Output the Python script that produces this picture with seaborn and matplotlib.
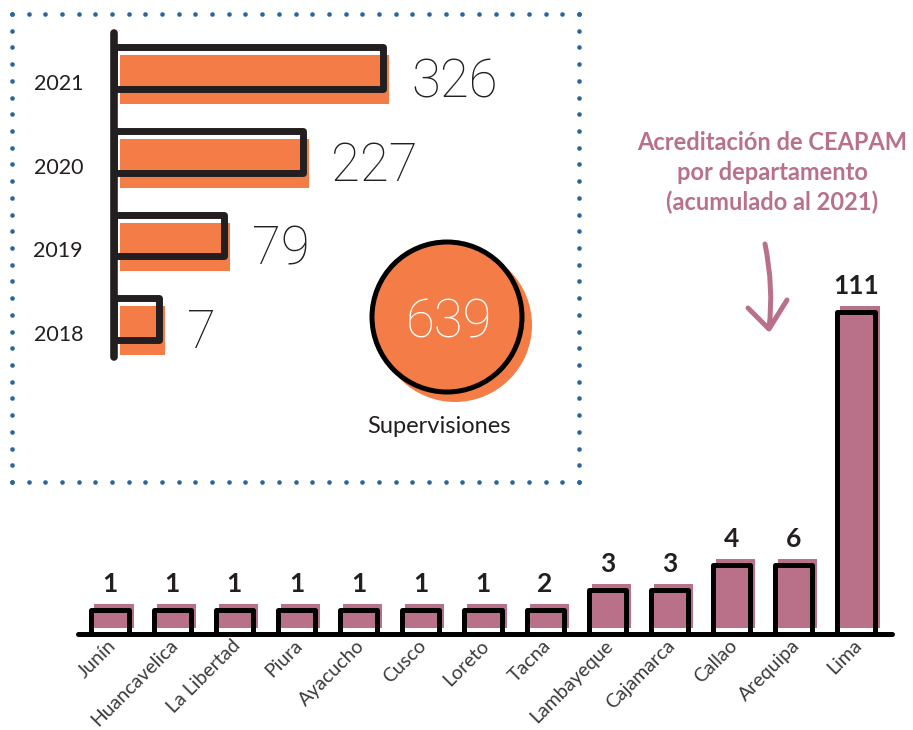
import matplotlib
matplotlib.use("Agg")
import matplotlib.pyplot as plt
from matplotlib.patches import Circle, PathPatch
from matplotlib.path import Path
from matplotlib.transforms import ScaledTranslation
import seaborn as sns
import numpy as np
import pandas as pd

# supervisiones por año
years = ["2021", "2020", "2019", "2018"]
supervisiones = [326, 227, 79, 7]
# the infographic is not drawn to scale: bar lengths
sup_bar_len = [269, 189, 110, 45]
total_supervisiones = 639

# acreditación de CEAPAM por departamento
departamentos = ["Junín", "Huancavelica", "La Libertad", "Piura", "Ayacucho", "Cusco",
                 "Loreto", "Tacna", "Lambayeque", "Cajamarca", "Callao", "Arequipa", "Lima"]
acreditaciones = [1, 1, 1, 1, 1, 1, 1, 2, 3, 3, 4, 6, 111]
# drawn bar heights (not to scale either)
acr_bar_height = [24, 24, 24, 24, 24, 24, 24, 24, 44, 44, 69, 69, 322]

ORANGE = "#f47c46"
PINK = "#b9718a"
DARK = "#231f20"
BLUE = "#2a6699"
THIN = ["Roboto", "Lato", "DejaVu Sans"]

sns.set_theme(style="white")
plt.rcParams["font.family"] = ["Lato", "DejaVu Sans"]

W, H = 913, 730
fig = plt.figure(figsize=(W / 100, H / 100), dpi=100)


def px_axes(left, top, right, bottom):
    ax = fig.add_axes([left / W, 1 - bottom / H, (right - left) / W, (bottom - top) / H])
    ax.set_facecolor("none")
    return ax


def px_offset(dx, dy):
    return ScaledTranslation(dx / 100, dy / 100, fig.dpi_scale_trans)


def shift(bars, ax, dx, dy):
    # move the "shadow" bars a few pixels
    for b in bars:
        b.set_transform(ax.transData + px_offset(dx, dy))


# --- supervisiones (horizontal bars) ---
ax1 = px_axes(114, 26.2, 560, 361)
sup = pd.DataFrame({"year": years, "len": sup_bar_len})
sns.barplot(data=sup, x="len", y="year", order=years, orient="h", color=ORANGE,
            saturation=1, width=0.58, linewidth=0, ax=ax1)
shift(ax1.containers[0], ax1, 6, -11.5)
sns.barplot(data=sup, x="len", y="year", order=years, orient="h", fill=False,
            color=DARK, width=0.5, linewidth=5, ax=ax1)
for b in ax1.containers[1]:
    b.set_joinstyle("round")
ax1.set_xlim(0, 446)
ax1.set_ylim(3.5, -0.5)
ax1.plot([0, 0], [-0.42, 3.45], color=DARK, lw=5.5, solid_capstyle="round", clip_on=False)
for i, (y, n, l) in enumerate(zip(years, supervisiones, sup_bar_len)):
    ax1.annotate(y, xy=(0, i), xytext=(-31, -22), textcoords="offset pixels",
                 ha="right", va="baseline", fontsize=15.5, color=DARK)
    ax1.annotate(str(n), xy=(l, i), xytext=(28, -29), textcoords="offset pixels",
                 ha="left", va="baseline", fontsize=38, family=THIN,
                 fontweight="light", color=DARK)
ax1.set_xticks([])
ax1.set_yticks([])
ax1.set_xlabel("")
ax1.set_ylabel("")
sns.despine(ax=ax1, left=True, bottom=True)

# --- acreditación por departamento (vertical bars) ---
ax2 = px_axes(72.7, 280, 893.3, 634)
acr = pd.DataFrame({"dep": departamentos, "h": acr_bar_height})
sns.barplot(data=acr, x="dep", y="h", order=departamentos, color=PINK,
            saturation=1, width=0.63, linewidth=0, ax=ax2)
shift(ax2.containers[0], ax2, 4, 6)
sns.barplot(data=acr, x="dep", y="h", order=departamentos, fill=False,
            color="black", width=0.6, linewidth=3.6, ax=ax2)
for b in ax2.containers[1]:
    b.set_joinstyle("round")
ax2.set_xlim(-0.6, 12.6)
ax2.set_ylim(0, 354)
ax2.axhline(0, xmin=0.0065, xmax=0.998, color="black", lw=3.6,
            solid_capstyle="round", clip_on=False)
for i, (n, h) in enumerate(zip(acreditaciones, acr_bar_height)):
    ax2.annotate(str(n), xy=(i, h), xytext=(0, 18), textcoords="offset pixels",
                 ha="center", va="baseline", fontsize=19, fontweight="bold", color=DARK)
ax2.set_xticks(range(len(departamentos)))
ax2.set_xticklabels(departamentos, rotation=45, ha="right", rotation_mode="anchor",
                    fontsize=14, color="#3a3a3a")
ax2.tick_params(axis="x", length=0, pad=2)
for lbl in ax2.get_xticklabels():
    lbl.set_transform(lbl.get_transform() + px_offset(-3, 0))
ax2.set_yticks([])
ax2.set_xlabel("")
ax2.set_ylabel("")
sns.despine(ax=ax2, left=True, bottom=True)

# --- decoration layer in pixel coordinates ---
bg = fig.add_axes([0, 0, 1, 1])
bg.set_xlim(0, W)
bg.set_ylim(H, 0)
bg.axis("off")

xs = np.linspace(12, 579, 35)
ys = np.linspace(14, 482, 29)
for xx, yy in [(xs, np.full_like(xs, 14)), (xs, np.full_like(xs, 482)),
               (np.full_like(ys, 12), ys), (np.full_like(ys, 579), ys)]:
    bg.plot(xx, yy, "o", color=BLUE, ms=3.3, mew=0)

bg.add_patch(Circle((455, 325), 77, fc=ORANGE, ec="none"))
bg.add_patch(Circle((447, 317), 75, fc=ORANGE, ec="black", lw=3.6))
bg.text(449, 338, str(total_supervisiones), ha="center", va="baseline",
        fontsize=38, family=THIN, fontweight="light", color="white")
bg.text(439, 433, "Supervisiones", ha="center", va="baseline", fontsize=17, color=DARK)

bg.text(772, 131, "Acreditación de CEAPAM\npor departamento\n(acumulado al 2021)",
        ha="center", va="top", fontsize=17, fontweight="bold", color=PINK, linespacing=1.35)

arrow = Path([(765, 244), (774, 288), (769, 328), (748, 308), (769, 329), (787, 300)],
             [Path.MOVETO, Path.CURVE3, Path.CURVE3, Path.MOVETO, Path.LINETO, Path.LINETO])
bg.add_patch(PathPatch(arrow, fill=False, ec=PINK, lw=3.6, capstyle="round", joinstyle="round"))

fig.savefig("out.png", dpi=100)
